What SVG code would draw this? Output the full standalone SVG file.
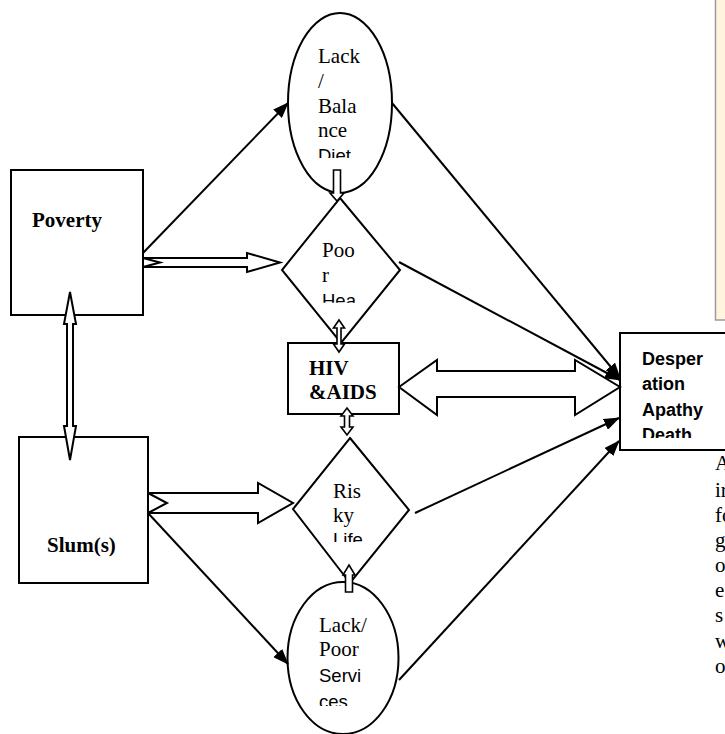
<svg xmlns="http://www.w3.org/2000/svg" width="725" height="734" viewBox="0 0 725 734">
<style>
.shape{fill:#fff;stroke:#000;stroke-width:2}
.ser{font-family:"Liberation Serif","Times New Roman",serif;font-size:21px;fill:#000}
.sans{font-family:"Liberation Sans",Arial,sans-serif;font-size:18.5px;fill:#000}
.bser{font-family:"Liberation Serif","Times New Roman",serif;font-size:21px;font-weight:bold;fill:#000}
.bsans{font-family:"Liberation Sans",Arial,sans-serif;font-size:18px;font-weight:bold;fill:#000}
.line{stroke:#000;stroke-width:2;fill:none;marker-end:url(#ah)}
.block{fill:#fff;stroke:#000;stroke-width:2;stroke-linejoin:miter}
.small{fill:#fff;stroke:#000;stroke-width:1.6}
</style>
<defs>
<marker id="ah" markerUnits="userSpaceOnUse" markerWidth="16" markerHeight="12" viewBox="0 0 16 12" refX="15" refY="6" orient="auto">
<path d="M0,0 L16,6 L0,12 Z" fill="#000"/>
</marker>
<clipPath id="c1"><rect x="300" y="30" width="90" height="128"/></clipPath>
<clipPath id="c2"><rect x="300" y="230" width="90" height="72.7"/></clipPath>
<clipPath id="c3"><rect x="320" y="470" width="80" height="72"/></clipPath>
<clipPath id="c4"><rect x="300" y="600" width="95" height="106"/></clipPath>
<clipPath id="c5"><rect x="630" y="340" width="95" height="98"/></clipPath>
</defs>

<g id="sidebox">
<rect x="715.5" y="-2" width="20" height="322" fill="#fff5df" stroke="#9a9a9a" stroke-width="1.5"/>
</g>

<g id="poverty">
<rect class="shape" x="11" y="170" width="132" height="145"/>
<text class="bser" x="32" y="227">Poverty</text>
</g>

<g id="slums">
<rect class="shape" x="19" y="437" width="129" height="146"/>
<text class="bser" x="47" y="552">Slum(s)</text>
</g>

<g id="lack-diet">
<ellipse class="shape" cx="340" cy="103" rx="52" ry="90"/>
<g clip-path="url(#c1)">
<text class="ser" x="318" y="63">Lack</text>
<text class="ser" x="318" y="88">/</text>
<text class="ser" x="318" y="113">Bala</text>
<text class="ser" x="318" y="137">nce</text>
<text class="sans" x="318" y="162">Diet</text>
</g>
</g>

<g id="poor-health">
<polygon class="shape" points="340,198 400,270 341,343 282,270"/>
<g clip-path="url(#c2)">
<text class="ser" x="322" y="257">Poo</text>
<text class="ser" x="322" y="282">r</text>
<text class="sans" x="322" y="307">Hea</text>
</g>
</g>

<g id="hiv">
<rect class="shape" x="288" y="343" width="111" height="71"/>
<text class="bser" x="309" y="375">HIV</text>
<text class="bser" x="309" y="399">&amp;AIDS</text>
</g>

<g id="risky-life">
<polygon class="shape" points="350,438 409,510 350,583 293,509"/>
<g clip-path="url(#c3)">
<text class="ser" x="333" y="498">Ris</text>
<text class="ser" x="333" y="522">ky</text>
<text class="sans" x="333" y="546">Life</text>
</g>
</g>

<g id="lack-services">
<ellipse class="shape" cx="343" cy="658" rx="55.5" ry="76"/>
<g clip-path="url(#c4)">
<text class="ser" x="319" y="632">Lack/</text>
<text class="ser" x="319" y="656">Poor</text>
<text class="sans" x="319" y="682">Servi</text>
<text class="sans" x="319" y="708">ces</text>
</g>
</g>

<g id="desperation">
<rect class="shape" x="620" y="333" width="110" height="117"/>
<g clip-path="url(#c5)">
<text class="bsans" x="642" y="365">Desper</text>
<text class="bsans" x="642" y="390">ation</text>
<text class="bsans" x="642" y="416">Apathy</text>
<text class="bsans" x="642" y="441">Death</text>
</g>
</g>

<g id="side-text">
<text class="ser" x="715" y="470">A</text>
<text class="ser" x="715" y="497">ir</text>
<text class="ser" x="715" y="522">fo</text>
<text class="ser" x="715" y="547">g</text>
<text class="ser" x="715" y="572">o</text>
<text class="ser" x="715" y="597">e</text>
<text class="ser" x="715" y="622">s</text>
<text class="ser" x="715" y="648">w</text>
<text class="ser" x="715" y="673">o</text>
</g>

<g id="connectors">
<line class="line" x1="143" y1="253" x2="288" y2="103"/>
<line class="line" x1="392" y1="103" x2="620" y2="378"/>
<line class="line" x1="399" y1="262" x2="620" y2="380"/>
<line class="line" x1="415" y1="513" x2="619" y2="418"/>
<line class="line" x1="148" y1="513" x2="288" y2="664"/>
<line class="line" x1="399" y1="680" x2="619" y2="441"/>
<polygon class="block" points="143,258 247,258 247,253 280,262.5 247,272 247,267 143,267 160,262.5"/>
<polygon class="block" points="148,493 258,493 258,483 293,503 258,523 258,513 148,513 167,503"/>
<polygon class="block" points="399,387 437,360 437,371 575,371 575,360 620,387 575,415 575,397 437,397 437,415"/>
<polygon class="block" points="70,292 76,324 73,324 73,426 76,426 70,460 64,426 67,426 67,324 64,324"/>
<polygon class="small" points="333.5,170 340.5,170 340.5,193 344,193 337,201 330,193 333.5,193"/>
<polygon class="small" points="339,320 344.5,328 341,328 341,344 344.5,344 339,352 333.5,344 337,344 337,328 333.5,328"/>
<polygon class="small" points="347,408 353,416 349.5,416 349.5,427 353,427 347,435 341,427 344.5,427 344.5,416 341,416"/>
<polygon class="small" points="349,565 355,575 352.5,575 352.5,592 345.5,592 345.5,575 343,575"/>
</g>
</svg>
